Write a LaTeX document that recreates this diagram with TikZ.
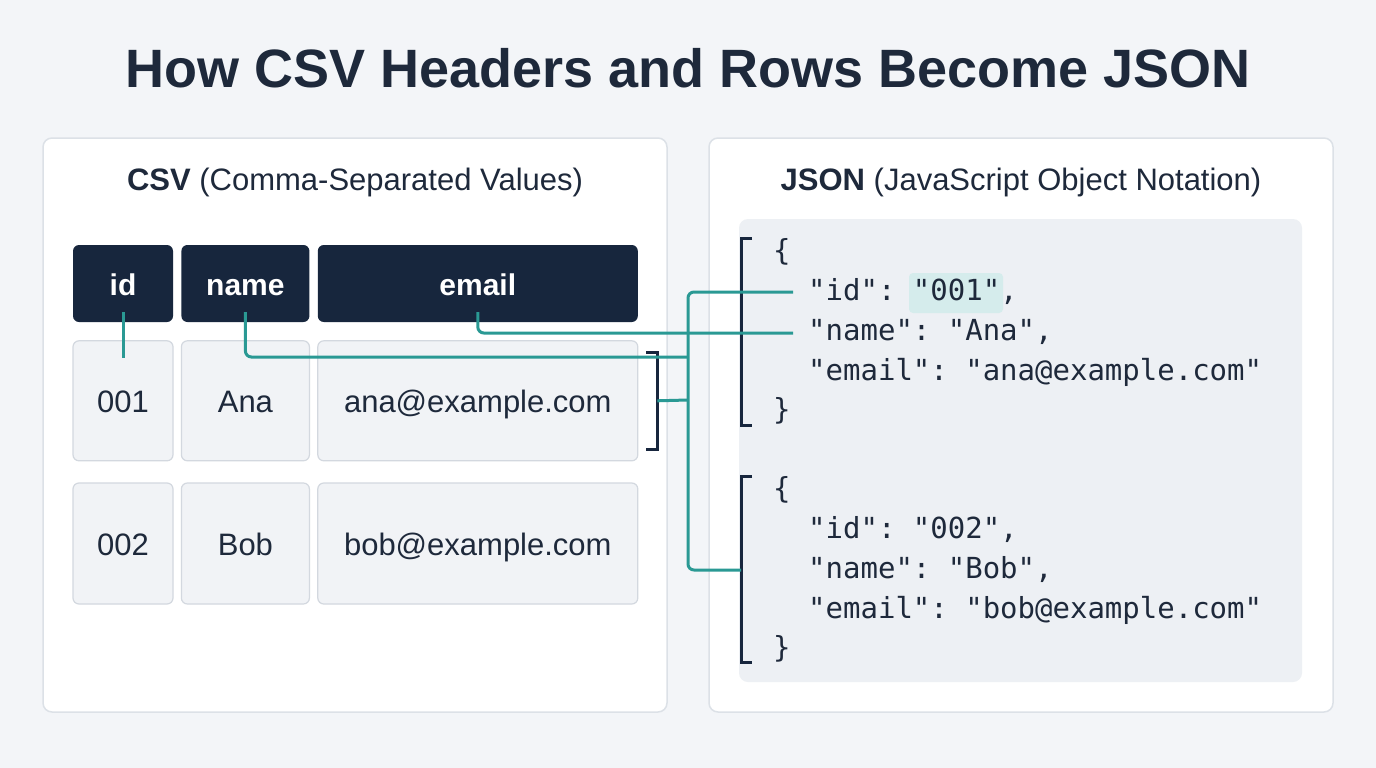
\documentclass[tikz,border=0pt]{standalone}
\usepackage{fontspec}
\setmainfont{Liberation Sans}
\setmonofont{DejaVu Sans Mono}
\usetikzlibrary{positioning,calc}

\definecolor{bgc}{HTML}{F3F5F8}
\definecolor{navy}{HTML}{17263D}
\definecolor{ink}{HTML}{1E293B}
\definecolor{edge}{HTML}{DCE1E7}
\definecolor{cellfill}{HTML}{F1F3F6}
\definecolor{celledge}{HTML}{D3D8DF}
\definecolor{codebg}{HTML}{EDF0F4}
\definecolor{teal}{HTML}{2A9994}
\definecolor{hlite}{HTML}{D5ECEC}

\begin{document}
\begin{tikzpicture}[
        x=1pt, y=1pt,
        panel/.style={draw=edge, line width=1.5pt, fill=white, rounded corners=9pt,
            minimum width=624pt, minimum height=574pt},
        hdr/.style={fill=navy, rounded corners=6pt, text=white, minimum height=77pt,
            text height=23pt, text depth=0pt,
            font=\fontsize{30}{34}\selectfont\bfseries},
        cell/.style={draw=celledge, line width=1.2pt, fill=cellfill, rounded corners=6pt,
            text height=24pt, text depth=0pt,
            text=ink, font=\fontsize{31}{34}\selectfont},
        code/.style={anchor=west, inner sep=0pt, text=ink, font=\fontsize{29}{32}\ttfamily},
        link/.style={draw=teal, line width=3pt, rounded corners=6pt},
        brace/.style={draw=navy, line width=3pt}
    ]

    % Hintergrund
    \fill[bgc] (0,0) rectangle (1376,-768);
    \useasboundingbox (0,0) rectangle (1376,-768);

    % Titel
    \node[text=ink, font=\fontsize{54}{60}\selectfont\bfseries] (title) at (688,-68)
        {How CSV Headers and Rows Become JSON};

    % Panels
    \node[panel] (csvp) at (355,-425) {};
    \node[panel] (jsonp) at (1021,-425) {};
    \node[text=ink, font=\fontsize{31}{34}\selectfont] (csvt) at (355,-182)
        {\textbf{CSV} (Comma-Separated Values)};
    \node[text=ink, font=\fontsize{31}{34}\selectfont] (jsont) at (1021,-182)
        {\textbf{JSON} (JavaScript Object Notation)};

    % CSV-Kopfzeile
    \node[hdr, minimum width=100pt] (hid) at (123,-283.5) {id};
    \node[hdr, minimum width=128pt, right=8pt of hid] (hname) {name};
    \node[hdr, minimum width=320pt, right=8pt of hname] (hemail) {email};

    % CSV-Zeilen
    \node[cell, minimum width=100pt, minimum height=120pt, below=18pt of hid] (aid) {001};
    \node[cell, minimum width=128pt, minimum height=120pt, below=18pt of hname] (aname) {Ana};
    \node[cell, minimum width=320pt, minimum height=120pt, below=18pt of hemail] (aemail) {ana@example.com};
    \node[cell, minimum width=100pt, minimum height=121pt, below=21pt of aid] (bid) {002};
    \node[cell, minimum width=128pt, minimum height=121pt, below=21pt of aname] (bname) {Bob};
    \node[cell, minimum width=320pt, minimum height=121pt, below=21pt of aemail] (bemail) {bob@example.com};

    % JSON-Block
    \fill[codebg, rounded corners=9pt] (739,-219) rectangle (1302,-682);
    \fill[hlite, rounded corners=4pt] (909,-273) rectangle (1003,-313);

    \node[code] (o1) at (773,-252) {\{};
    \node[code] (id1) at (808,-292) {"id": "001",};
    \node[code] (nm1) at (808,-332) {"name": "Ana",};
    \node[code] (em1) at (808,-372) {"email": "ana@example.com"};
    \node[code] (c1) at (773,-411) {\}};

    \node[code] (o2) at (773,-490) {\{};
    \node[code] (id2) at (808,-530) {"id": "002",};
    \node[code] (nm2) at (808,-570) {"name": "Bob",};
    \node[code] (em2) at (808,-610) {"email": "bob@example.com"};
    \node[code] (c2) at (773,-649) {\}};

    % Klammern
    \draw[brace] (752,-238) -- (741,-238) -- (741,-425) -- (752,-425);
    \draw[brace] (752,-476) -- (741,-476) -- (741,-662) -- (752,-662);
    \draw[brace] ($(aemail.north east)+(8pt,-12pt)$) -- ++(11pt,0) coordinate (rbt)
        -- ($(aemail.south east)+(19pt,12pt)$) -- ++(-11pt,0);
    \coordinate (rb) at ($(aemail.east)+(19pt,0)$);
    \coordinate (ob2) at (741,-570);

    % Verbindungen
    \coordinate (tap) at (688,-400);
    \coordinate (jn) at (688,-357);
    \draw[link] ($(hid.south)+(0,10pt)$) -- ($(aid.north)+(0,-18pt)$);
    \draw[link] ($(hname.south)+(0,10pt)$) |- (jn);
    \draw[link] ($(hemail.south)+(0,10pt)$) |- ($(nm1.west)+(-15pt,-1pt)$);
    \draw[link] ($(id1.west)+(-15pt,0)$) -| (tap) |- (ob2);
    \draw[link] (rb) -- (tap);

\end{tikzpicture}
\end{document}
